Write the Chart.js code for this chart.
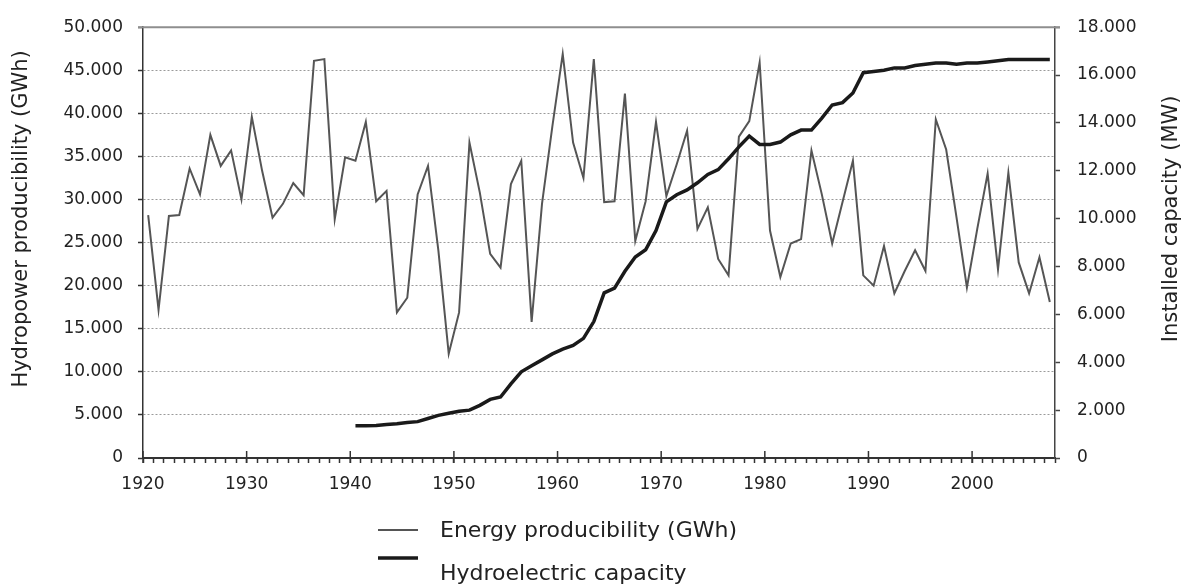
<!DOCTYPE html>
<html>
<head>
    <meta charset="utf-8">
    <title>Hydropower producibility and installed capacity</title>
    <script src="https://cdn.jsdelivr.net/npm/chart.js@4.4.1/dist/chart.umd.min.js"></script>
    <style>
        html, body { margin: 0; padding: 0; background: #fff; }
        canvas { display: block; }
    </style>
</head>
<body>
    <canvas id="myChart" width="1185" height="584"></canvas>
    <script>
        // yearly energy producibility (GWh), 1920-2007
        const years = [1920, 1921, 1922, 1923, 1924, 1925, 1926, 1927, 1928, 1929,
            1930, 1931, 1932, 1933, 1934, 1935, 1936, 1937, 1938, 1939,
            1940, 1941, 1942, 1943, 1944, 1945, 1946, 1947, 1948, 1949,
            1950, 1951, 1952, 1953, 1954, 1955, 1956, 1957, 1958, 1959,
            1960, 1961, 1962, 1963, 1964, 1965, 1966, 1967, 1968, 1969,
            1970, 1971, 1972, 1973, 1974, 1975, 1976, 1977, 1978, 1979,
            1980, 1981, 1982, 1983, 1984, 1985, 1986, 1987, 1988, 1989,
            1990, 1991, 1992, 1993, 1994, 1995, 1996, 1997, 1998, 1999,
            2000, 2001, 2002, 2003, 2004, 2005, 2006, 2007];
        const energy = [28200, 17200, 28100, 28200, 33600, 30600, 37500, 33900, 35700, 30000,
            39600, 33300, 27900, 29500, 31900, 30500, 46100, 46300, 27700, 34900,
            34500, 39000, 29800, 31000, 16900, 18600, 30600, 33900, 24100, 12100,
            16900, 36600, 30800, 23700, 22100, 31800, 34500, 15800, 29500, 38500,
            46900, 36600, 32500, 46300, 29700, 29800, 42300, 25200, 29800, 39000,
            30400, 34100, 38000, 26600, 29100, 23100, 21200, 37300, 39100, 45900,
            26400, 21000, 24900, 25400, 35700, 30600, 24900, 29700, 34500, 21200,
            20000, 24600, 19100, 21700, 24100, 21700, 39300, 35800, 27900, 19800,
            26600, 33000, 21900, 33100, 22700, 19100, 23300, 18100];

        // installed hydroelectric capacity (MW), 1940-2007
        const capYears = [1940, 1941, 1942, 1943, 1944, 1945, 1946, 1947, 1948, 1949,
            1950, 1951, 1952, 1953, 1954, 1955, 1956, 1957, 1958, 1959,
            1960, 1961, 1962, 1963, 1964, 1965, 1966, 1967, 1968, 1969,
            1970, 1971, 1972, 1973, 1974, 1975, 1976, 1977, 1978, 1979,
            1980, 1981, 1982, 1983, 1984, 1985, 1986, 1987, 1988, 1989,
            1990, 1991, 1992, 1993, 1994, 1995, 1996, 1997, 1998, 1999,
            2000, 2001, 2002, 2003, 2004, 2005, 2006, 2007];
        const capacity = [1350, 1350, 1360, 1400, 1430, 1480, 1520, 1650, 1780, 1870,
            1950, 2000, 2200, 2450, 2550, 3100, 3600, 3850, 4100, 4350,
            4550, 4700, 5000, 5700, 6900, 7100, 7800, 8400, 8700, 9500,
            10700, 11000, 11200, 11500, 11850, 12050, 12500, 13000, 13450, 13100,
            13100, 13200, 13500, 13700, 13700, 14200, 14750, 14850, 15250, 16100,
            16150, 16200, 16300, 16300, 16400, 16450, 16500, 16500, 16450, 16500,
            16500, 16550, 16600, 16650, 16650, 16650, 16650, 16650];

        const decadeTicks = [1920, 1930, 1940, 1950, 1960, 1970, 1980, 1990, 2000];
        const leftTitle = 'Hydropower producibility (GWh)';
        const rightTitle = 'Installed capacity (MW)';
        const energyLabel = 'Energy producibility (GWh)';
        const capacityLabel = 'Hydroelectric capacity';

        // 50000 -> "50.000"
        function fmt(v) {
            return v === 0 ? '0' : (v / 1000).toFixed(3);
        }

        Chart.defaults.font.family = '"DejaVu Sans", sans-serif';
        Chart.defaults.color = '#222';

        const extras = {
            id: 'extras',
            afterDraw(chart) {
                const {ctx, chartArea: a, scales} = chart;
                ctx.save();
                // grey frame line along the top
                ctx.strokeStyle = '#8e8e8e';
                ctx.lineWidth = 2;
                ctx.beginPath();
                ctx.moveTo(a.left - 5, a.top);
                ctx.lineTo(a.right + 5, a.top);
                ctx.stroke();
                // decade ticks cross the x axis
                ctx.strokeStyle = '#333';
                ctx.lineWidth = 1.5;
                decadeTicks.forEach(v => {
                    const px = scales.x.getPixelForValue(v);
                    ctx.beginPath();
                    ctx.moveTo(px, a.bottom - 7);
                    ctx.lineTo(px, a.bottom + 5);
                    ctx.stroke();
                });
                // axis titles, both read bottom to top
                ctx.fillStyle = '#222';
                ctx.font = '21px "DejaVu Sans"';
                ctx.textAlign = 'center';
                ctx.textBaseline = 'middle';
                const ty = a.top + (a.bottom - a.top) * 0.445;
                [[22, leftTitle], [1172, rightTitle]].forEach(([tx, text]) => {
                    ctx.save();
                    ctx.translate(tx, ty);
                    ctx.rotate(-Math.PI / 2);
                    ctx.fillText(text, 0, 0);
                    ctx.restore();
                });
                // legend, one item per row
                const lineY = [530, 558];
                const textY = [537, 580];
                ctx.font = '22px "DejaVu Sans"';
                ctx.textAlign = 'left';
                ctx.textBaseline = 'alphabetic';
                chart.data.datasets.forEach((ds, i) => {
                    ctx.strokeStyle = ds.borderColor;
                    ctx.lineWidth = ds.borderWidth;
                    ctx.beginPath();
                    ctx.moveTo(378, lineY[i]);
                    ctx.lineTo(418, lineY[i]);
                    ctx.stroke();
                    ctx.fillText(ds.label, 440, textY[i]);
                });
                ctx.restore();
            }
        };

        const ctx = document.getElementById('myChart').getContext('2d');
        const myChart = new Chart(ctx, {
            type: 'line',
            data: {
                datasets: [{
                    label: energyLabel,
                    data: years.map((y, i) => ({x: y + 0.5, y: energy[i]})),
                    yAxisID: 'y',
                    borderColor: '#555',
                    borderWidth: 2,
                    pointRadius: 0,
                    tension: 0,
                    order: 1
                }, {
                    label: capacityLabel,
                    data: capYears.map((y, i) => ({x: y + 0.5, y: capacity[i]})),
                    yAxisID: 'y1',
                    borderColor: '#1a1a1a',
                    borderWidth: 3.5,
                    pointRadius: 0,
                    tension: 0,
                    order: 0
                }]
            },
            options: {
                responsive: false,
                animation: false,
                layout: { padding: { top: 26, left: 0, right: 0, bottom: 0 } },
                plugins: {
                    legend: { display: false },
                    tooltip: { enabled: false }
                },
                scales: {
                    x: {
                        type: 'linear',
                        min: 1920,
                        max: 2008,
                        afterFit(s) { s.height = 126; },
                        ticks: {
                            stepSize: 1,
                            maxTicksLimit: 100,
                            autoSkip: false,
                            maxRotation: 0,
                            padding: 11,
                            font: { size: 17 },
                            callback: v => (v % 10 === 0 && v <= 2000) ? String(v) : ''
                        },
                        grid: { drawOnChartArea: false, tickLength: 5, tickColor: '#333', tickWidth: 1.5 },
                        border: { color: '#333', width: 2 }
                    },
                    y: {
                        position: 'left',
                        min: 0,
                        max: 50000,
                        afterFit(s) { s.width = 143; },
                        ticks: { stepSize: 5000, padding: 15, font: { size: 17 }, callback: fmt },
                        grid: {
                            color: c => (c.tick.value === 0 || c.tick.value === 50000) ? 'rgba(0,0,0,0)' : '#9a9a9a',
                            lineWidth: 1,
                            tickLength: 5,
                            tickColor: '#333',
                            tickWidth: 1.5
                        },
                        border: { color: '#333', width: 1.5, dash: [2, 2] }
                    },
                    y1: {
                        position: 'right',
                        min: 0,
                        max: 18000,
                        afterFit(s) { s.width = 130; },
                        ticks: { stepSize: 2000, padding: 17, font: { size: 17 }, callback: fmt },
                        grid: { drawOnChartArea: false, tickLength: 5, tickColor: '#444', tickWidth: 1.5 },
                        border: { color: '#444', width: 1.5 }
                    }
                }
            },
            plugins: [extras]
        });
    </script>
</body>
</html>
